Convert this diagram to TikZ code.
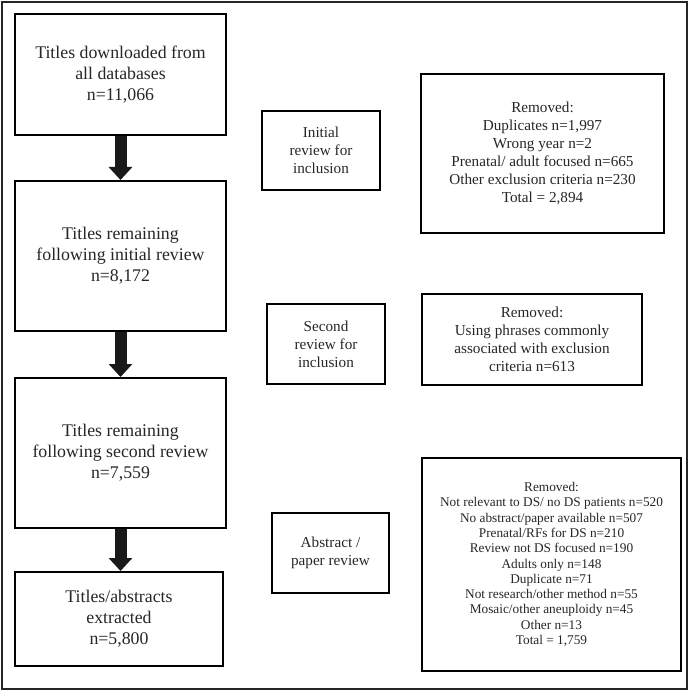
\documentclass[tikz,border=0pt]{standalone}
\usepackage{fontspec}
\setmainfont{Liberation Serif}
\usetikzlibrary{arrows.meta}
\tikzset{
  box/.style={draw=black, line width=2pt, align=center, inner sep=0pt, text=black!85},
  mainbox/.style={box, font=\fontsize{17.8}{21}\selectfont},
  midbox/.style={box, font=\fontsize{15.2}{18}\selectfont},
  smallbox/.style={box, font=\fontsize{13.3}{15.3}\selectfont},
  flow/.style={line width=12pt, draw=black!90, -{Triangle[width=23pt,length=13pt]}}
}
\begin{document}
\begin{tikzpicture}[x=1pt,y=-1pt]
\useasboundingbox (0,0) rectangle (690,692);
\draw[line width=2pt, black!85] (2,2) rectangle (687,689);
% left column
\node[mainbox, minimum width=211pt, minimum height=121pt] (a) at (120.5,74.5)
  {Titles downloaded from\\all databases\\n=11,066};
\node[mainbox, minimum width=211pt, minimum height=150pt] (b) at (120.5,256)
  {Titles remaining\\following initial review\\n=8,172};
\node[mainbox, minimum width=211pt, minimum height=150pt] (c) at (120.5,453)
  {Titles remaining\\following second review\\n=7,559};
\node[mainbox, minimum width=208pt, minimum height=94pt] (d) at (119,619)
  {Titles/abstracts\\extracted\\n=5,800};
\draw[flow] (a.south) -- (b.north);
\draw[flow] (b.south) -- (c.north);
\draw[flow] (c.south) -- ([xshift=1.5pt]d.north);
% middle column
\node[midbox, minimum width=118pt, minimum height=79pt] (init) at (321,150.5)
  {Initial\\review for\\inclusion};
\node[midbox, minimum width=118pt, minimum height=80pt] (sec) at (326,344)
  {Second\\review for\\inclusion};
\node[midbox, minimum width=117pt, minimum height=80pt] (abs) at (330.5,553)
  {Abstract /\\paper review};
% right column
\node[midbox, minimum width=243pt, minimum height=159pt] (r1) at (542.5,153.5)
  {Removed:\\Duplicates n=1,997\\Wrong year n=2\\Prenatal/ adult focused n=665\\Other exclusion criteria n=230\\Total = 2,894};
\node[midbox, minimum width=220pt, minimum height=91pt] (r2) at (532,339.5)
  {Removed:\\Using phrases commonly\\associated with exclusion\\criteria n=613};
\node[smallbox, minimum width=259pt, minimum height=213pt] (r3) at (551.5,564.5)
  {Removed:\\Not relevant to DS/ no DS patients n=520\\No abstract/paper available n=507\\Prenatal/RFs for DS n=210\\Review not DS focused n=190\\Adults only n=148\\Duplicate n=71\\Not research/other method n=55\\Mosaic/other aneuploidy n=45\\Other n=13\\Total = 1,759};
\end{tikzpicture}
\end{document}
